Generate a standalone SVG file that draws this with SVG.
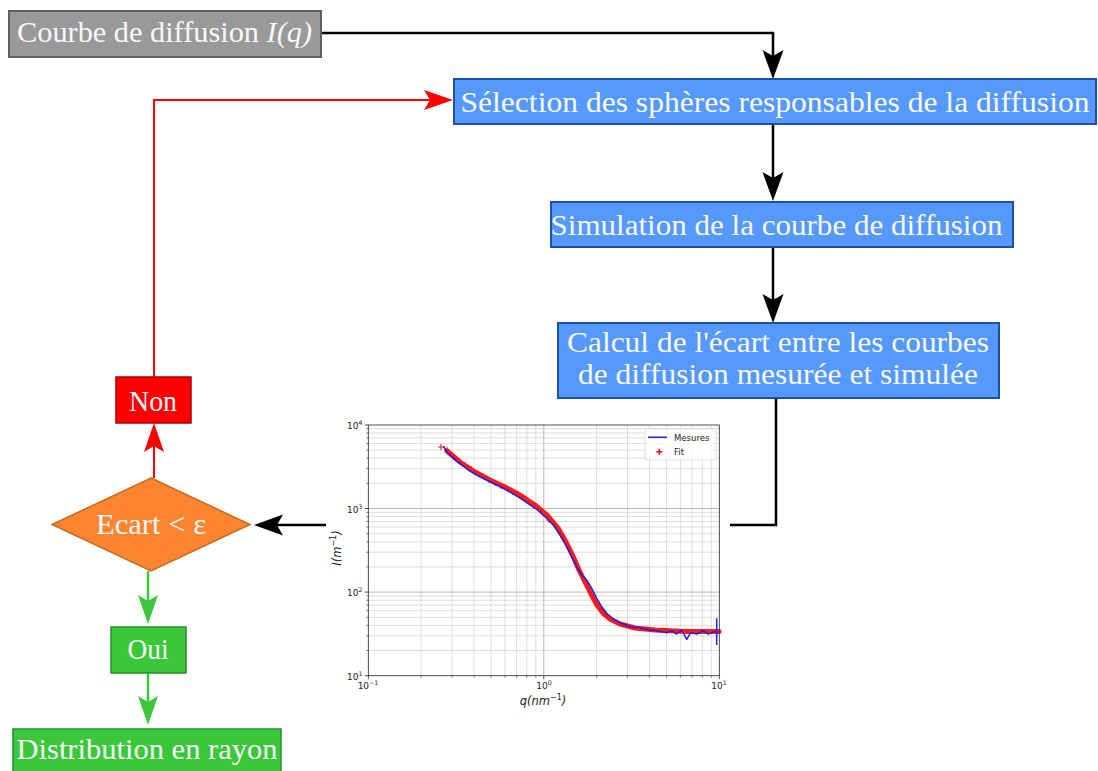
<svg xmlns="http://www.w3.org/2000/svg" width="1098" height="771" viewBox="0 0 1098 771">
<style>
.lbl{font-family:"Liberation Serif","Times New Roman",serif;font-size:30px;fill:#f8f8f8;}
.blue{fill:#5599ff;stroke:#1c4fb0;stroke-width:2;}
.pt{font-family:"DejaVu Sans",sans-serif;font-size:9px;fill:#222;}
.ax{font-family:"DejaVu Sans",sans-serif;font-size:11.5px;font-style:italic;fill:#222;}
.lg{font-family:"DejaVu Sans",sans-serif;font-size:8.5px;fill:#222;}
.sup{font-size:6.3px;}
.gmin{stroke:#d4d4d4;stroke-width:0.8;fill:none;}
.gmaj{stroke:#b8b8b8;stroke-width:1;fill:none;}
</style>
<defs>
<marker id="ak" markerUnits="userSpaceOnUse" markerWidth="30" markerHeight="22" viewBox="0 0 30 22" refX="21" refY="11" orient="auto"><path d="M0,0.5 L29,11 L0,21.5 L6,11 Z" fill="#000"/></marker>
<marker id="ar" markerUnits="userSpaceOnUse" markerWidth="30" markerHeight="22" viewBox="0 0 30 22" refX="21" refY="11" orient="auto"><path d="M0,1 L29,11 L0,21 L6,11 Z" fill="#ff0000"/></marker>
<marker id="ag" markerUnits="userSpaceOnUse" markerWidth="30" markerHeight="22" viewBox="0 0 30 22" refX="21" refY="11" orient="auto"><path d="M0,1 L29,11 L0,21 L6,11 Z" fill="#3cc83c"/></marker>
</defs>
<rect width="1098" height="771" fill="#fff"/>

<g id="connectors" fill="none" stroke-linejoin="miter">
<path d="M321,33 H773 V71" stroke="#000" stroke-width="2.5" marker-end="url(#ak)"/>
<path d="M773,124 V193" stroke="#000" stroke-width="2.5" marker-end="url(#ak)"/>
<path d="M773,247 V315" stroke="#000" stroke-width="2.5" marker-end="url(#ak)"/>
<path d="M776,398 V525 H262" stroke="#000" stroke-width="2.5" marker-end="url(#ak)"/>
<path d="M154,478 V431" stroke="#ff0000" stroke-width="2" marker-end="url(#ar)"/>
<path d="M154,377 V100 H445" stroke="#ff0000" stroke-width="2" marker-end="url(#ar)"/>
<path d="M148,571 V616" stroke="#3cc83c" stroke-width="2.5" marker-end="url(#ag)"/>
<path d="M148,673 V717" stroke="#3cc83c" stroke-width="2.5" marker-end="url(#ag)"/>
</g>

<g id="plot">
<rect x="326" y="413" width="404" height="300" fill="#fff"/>
<path class="gmin" d="M421.1,425V675.7M452,425V675.7M474,425V675.7M491,425V675.7M504.9,425V675.7M516.6,425V675.7M526.8,425V675.7M535.8,425V675.7M596.6,425V675.7M627.5,425V675.7M649.5,425V675.7M666.5,425V675.7M680.4,425V675.7M692.1,425V675.7M702.3,425V675.7M711.3,425V675.7
M368.3,650.5H719.3M368.3,635.8H719.3M368.3,625.4H719.3M368.3,617.3H719.3M368.3,610.7H719.3M368.3,605.1H719.3M368.3,600.2H719.3M368.3,595.9H719.3M368.3,566.9H719.3M368.3,552.2H719.3M368.3,541.8H719.3M368.3,533.7H719.3M368.3,527.1H719.3M368.3,521.5H719.3M368.3,516.6H719.3M368.3,512.3H719.3M368.3,483.3H719.3M368.3,468.6H719.3M368.3,458.2H719.3M368.3,450.1H719.3M368.3,443.5H719.3M368.3,437.9H719.3M368.3,433H719.3M368.3,428.7H719.3"/>
<path class="gmaj" d="M543.8,425V675.7M368.3,592.1H719.3M368.3,508.5H719.3"/>
<!-- fit band -->
<path d="M447,451 L460,462 L475,472 L490,480 L505,487 L520,495 L535,505 L548,516 L558,528 L566,542 L573,556 L579,570 L585,582 L591,594 L597,605 L603,613 L610,619 L620,624 L635,628 L655,630 L685,631.5 L719,631.5" fill="none" stroke="#ff0000" stroke-width="5" stroke-linejoin="round" stroke-linecap="round" opacity="0.9"/>
<path fill="none" stroke="#ff2020" stroke-width="1.2" d="M438,447h6M441,444v6M444,450h6M447,447v6M450,456h6M453,453v6M456,461h6M459,458v6M462,465h6M465,462v6M468,469h6M471,466v6M474,473h6M477,470v6M480,476h6M483,473v6M486,480h6M489,477v6M492,483h6M495,480v6M498,486h6M501,483v6M504,489h6M507,486v6M510,492h6M513,489v6M516,495h6M519,492v6M522,499h6M525,496v6M528,503h6M531,500v6M534,507h6M537,504v6M540,513h6M543,510v6M546,520h6M549,517v6"/>
<!-- measures -->
<polyline fill="none" stroke="#1f1fe6" stroke-width="1.5" stroke-linejoin="round" points="443.3,446 446.7,451.7 451.7,456.7 460,463.3 468.3,470 476.7,475 486.7,480 496.7,485 506.7,490 516.7,496 526.7,502.7 536.7,509.3 546.7,518.3 553.3,525 560,535 566.7,546.7 571.7,556.7 576.7,566.7 581.7,575 586.7,580 591.7,588.3 596.7,598.3 601.7,606.7 606.7,613.3 613.3,619 620,622.7 630,626.7 640,627.7 650,630 656.7,630.7 666.7,632.7 671.7,630.7 676.7,634 681.7,630 686.7,639.3 690.7,632.7 696.7,634 703.3,630.7 708.3,634 713.3,631.7 716.7,631.7"/>
<path d="M716.7,618.3V645" stroke="#1f1fe6" stroke-width="1.5"/>
<!-- frame and ticks -->
<rect x="368.3" y="425" width="351" height="250.7" fill="none" stroke="#222" stroke-width="0.8"/>
<path stroke="#222" stroke-width="0.8" fill="none" d="M368.3,675.7v3.5M543.8,675.7v3.5M719.3,675.7v3.5M368.3,675.7h-3.5M368.3,592.1h-3.5M368.3,508.5h-3.5M368.3,425h-3.5"/>
<path stroke="#222" stroke-width="0.6" fill="none" d="M421.1,675.7v2M452,675.7v2M474,675.7v2M491,675.7v2M504.9,675.7v2M516.6,675.7v2M526.8,675.7v2M535.8,675.7v2M596.6,675.7v2M627.5,675.7v2M649.5,675.7v2M666.5,675.7v2M680.4,675.7v2M692.1,675.7v2M702.3,675.7v2M711.3,675.7v2
M368.3,650.5h-2M368.3,635.8h-2M368.3,625.4h-2M368.3,617.3h-2M368.3,610.7h-2M368.3,605.1h-2M368.3,600.2h-2M368.3,595.9h-2M368.3,566.9h-2M368.3,552.2h-2M368.3,541.8h-2M368.3,533.7h-2M368.3,527.1h-2M368.3,521.5h-2M368.3,516.6h-2M368.3,512.3h-2M368.3,483.3h-2M368.3,468.6h-2M368.3,458.2h-2M368.3,450.1h-2M368.3,443.5h-2M368.3,437.9h-2M368.3,433h-2M368.3,428.7h-2"/>
<text class="pt" x="347" y="429">10<tspan class="sup" dy="-4">4</tspan></text>
<text class="pt" x="347" y="512.5">10<tspan class="sup" dy="-4">3</tspan></text>
<text class="pt" x="347" y="596">10<tspan class="sup" dy="-4">2</tspan></text>
<text class="pt" x="347" y="679.5">10<tspan class="sup" dy="-4">1</tspan></text>
<text class="pt" x="368" y="689" text-anchor="middle">10<tspan class="sup" dy="-4">−1</tspan></text>
<text class="pt" x="544" y="689" text-anchor="middle">10<tspan class="sup" dy="-4">0</tspan></text>
<text class="pt" x="719" y="689" text-anchor="middle">10<tspan class="sup" dy="-4">1</tspan></text>
<text class="ax" x="543" y="705" text-anchor="middle">q(nm<tspan style="font-size:8px;font-style:normal" dy="-5">−1</tspan><tspan dy="5">)</tspan></text>
<text class="ax" transform="translate(341,548) rotate(-90)" text-anchor="middle">I(m<tspan style="font-size:8px;font-style:normal" dy="-5">−1</tspan><tspan dy="5">)</tspan></text>
<rect x="645" y="429" width="71" height="31" rx="2" fill="#fff" fill-opacity="0.8" stroke="#d8d8d8" stroke-width="0.8"/>
<path d="M648,437.3H667" stroke="#1f1fe6" stroke-width="1.5"/>
<path d="M656.3,451.7h6M659.3,448.7v6" stroke="#ff0000" stroke-width="1.5"/>
<text class="lg" x="674" y="440.5">Mesures</text>
<text class="lg" x="674" y="455">Fit</text>
</g>

<g id="courbe">
<rect x="9" y="11" width="312" height="46" fill="#999999" stroke="#5f5f5f" stroke-width="2"/>
<text class="lbl" x="17" y="42" textLength="295" lengthAdjust="spacingAndGlyphs">Courbe de diffusion <tspan font-style="italic">I(q)</tspan></text>
</g>
<g id="selection">
<rect x="454" y="79" width="642" height="45" class="blue"/>
<text class="lbl" x="775" y="112" text-anchor="middle" textLength="629" lengthAdjust="spacingAndGlyphs">Sélection des sphères responsables de la diffusion</text>
</g>
<g id="simulation">
<rect x="551" y="202" width="462" height="45" class="blue"/>
<text class="lbl" x="776.5" y="235" text-anchor="middle" textLength="452" lengthAdjust="spacingAndGlyphs">Simulation de la courbe de diffusion</text>
</g>
<g id="calcul">
<rect x="558" y="323" width="441" height="75" class="blue"/>
<text class="lbl" x="778" y="352" text-anchor="middle" textLength="422" lengthAdjust="spacingAndGlyphs">Calcul de l'écart entre les courbes</text>
<text class="lbl" x="778" y="384" text-anchor="middle" textLength="400" lengthAdjust="spacingAndGlyphs">de diffusion mesurée et simulée</text>
</g>
<g id="decision">
<polygon points="151,478 250,524.5 151,571 52,524.5" fill="#fd8430" stroke="#cc6a1e" stroke-width="1.5"/>
<text class="lbl" x="151" y="534" text-anchor="middle" textLength="110" lengthAdjust="spacingAndGlyphs">Ecart &lt; ε</text>
</g>
<g id="non">
<rect x="116" y="377" width="75" height="46" fill="#ff0000" stroke="#b00000" stroke-width="1.5"/>
<text class="lbl" x="153" y="410.5" text-anchor="middle" textLength="48" lengthAdjust="spacingAndGlyphs">Non</text>
</g>
<g id="oui">
<rect x="111" y="627" width="75" height="46" fill="#3ac83a" stroke="#2a8a2a" stroke-width="1.5"/>
<text class="lbl" x="148" y="659" text-anchor="middle" textLength="41" lengthAdjust="spacingAndGlyphs">Oui</text>
</g>
<g id="distribution">
<rect x="13" y="729" width="268" height="48" fill="#3ac83a" stroke="#2a8a2a" stroke-width="1.5"/>
<text class="lbl" x="147" y="759" text-anchor="middle" textLength="261" lengthAdjust="spacingAndGlyphs">Distribution en rayon</text>
</g>
</svg>
